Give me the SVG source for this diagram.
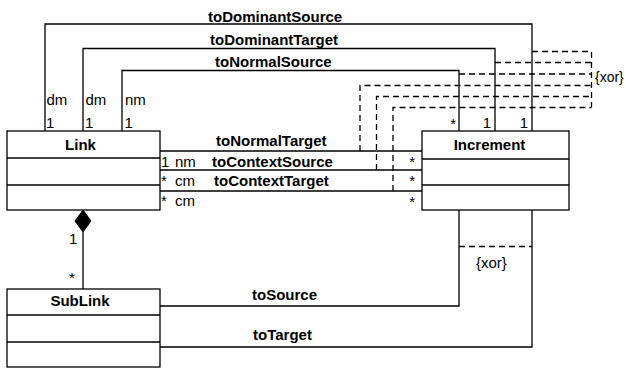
<svg xmlns="http://www.w3.org/2000/svg" width="626" height="368" viewBox="0 0 626 368">
<style>
text{font-family:"Liberation Sans",Arial,sans-serif;font-size:15px;fill:#000}
.b{font-weight:bold}
.box{fill:#fff;stroke:#000;stroke-width:1.3}
.ln{fill:none;stroke:#000;stroke-width:1.3}
.ds{fill:none;stroke:#000;stroke-width:1.3;stroke-dasharray:6,4}
</style>
<rect width="626" height="368" fill="#fff"/>
<g id="connectors">
<polyline class="ln" points="45,131 45,24 532,24 532,131"/>
<polyline class="ln" points="83,131 83,48.5 495,48.5 495,131"/>
<polyline class="ln" points="122,131 122,70.5 459,70.5 459,131"/>
<line class="ln" x1="160" y1="151" x2="422" y2="151"/>
<line class="ln" x1="160" y1="170" x2="422" y2="170"/>
<line class="ln" x1="160" y1="191" x2="422" y2="191"/>
<polyline class="ln" points="160,306 459,306 459,210"/>
<polyline class="ln" points="160,347 532,347 532,210"/>
<line class="ln" x1="83" y1="232" x2="83" y2="289"/>
<polygon points="83,210 91,221 83,232 75,221" fill="#000" stroke="#000" stroke-width="1"/>
<polyline class="ds" points="532,51.5 591.5,51.5 591.5,107.5"/>
<line class="ds" x1="495" y1="62.5" x2="591.5" y2="62.5"/>
<line class="ds" x1="459" y1="74" x2="591.5" y2="74"/>
<polyline class="ds" points="360,151 360,85.5 591.5,85.5"/>
<polyline class="ds" points="376.5,170 376.5,96.5 591.5,96.5"/>
<polyline class="ds" points="393,191 393,107.5 591.5,107.5"/>
<line class="ds" x1="459" y1="246.5" x2="532" y2="246.5"/>
<text x="595" y="82" style="font-size:14px">{xor}</text>
<text x="476" y="268">{xor}</text>
<text class="b" x="208" y="21.5">toDominantSource</text>
<text class="b" x="210" y="44.5">toDominantTarget</text>
<text class="b" x="215" y="66.5">toNormalSource</text>
<text class="b" x="216" y="146">toNormalTarget</text>
<text class="b" x="212" y="166.5">toContextSource</text>
<text class="b" x="214" y="185.5">toContextTarget</text>
<text class="b" x="252" y="300">toSource</text>
<text class="b" x="253" y="340">toTarget</text>
<text x="46.5" y="104.5">dm</text>
<text x="46" y="128">1</text>
<text x="85.5" y="104.5">dm</text>
<text x="85" y="128">1</text>
<text x="125" y="104.5">nm</text>
<text x="124.5" y="128">1</text>
<text x="456" y="128.5" text-anchor="end">*</text>
<text x="491" y="128" text-anchor="end">1</text>
<text x="528" y="128" text-anchor="end">1</text>
<text x="161" y="166.5">1</text>
<text x="175" y="166.5">nm</text>
<text x="161" y="185.5">*</text>
<text x="175" y="185.5">cm</text>
<text x="161" y="206">*</text>
<text x="175" y="206">cm</text>
<text x="415" y="166.5" text-anchor="end">*</text>
<text x="415" y="186" text-anchor="end">*</text>
<text x="415" y="207" text-anchor="end">*</text>
<text x="69" y="243.5">1</text>
<text x="69" y="283">*</text>
</g>
<g id="Link">
<rect class="box" x="7" y="131" width="153" height="79"/>
<line class="ln" x1="7" y1="158" x2="160" y2="158"/>
<line class="ln" x1="7" y1="185" x2="160" y2="185"/>
<text class="b" x="80.5" y="150" text-anchor="middle">Link</text>
</g>
<g id="Increment">
<rect class="box" x="422" y="131" width="147" height="79"/>
<line class="ln" x1="422" y1="159" x2="569" y2="159"/>
<line class="ln" x1="422" y1="185" x2="569" y2="185"/>
<text class="b" x="489.5" y="150" text-anchor="middle">Increment</text>
</g>
<g id="SubLink">
<rect class="box" x="7" y="289" width="153" height="78"/>
<line class="ln" x1="7" y1="315" x2="160" y2="315"/>
<line class="ln" x1="7" y1="342" x2="160" y2="342"/>
<text class="b" x="80" y="306" text-anchor="middle">SubLink</text>
</g>
</svg>
